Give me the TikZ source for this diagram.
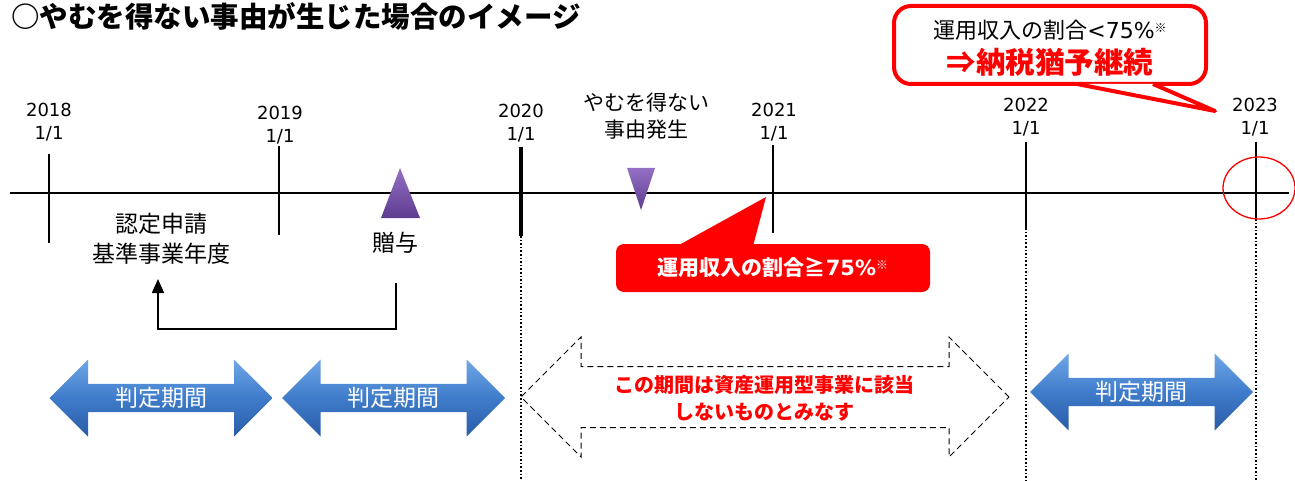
\documentclass[tikz,border=0pt]{standalone}
\usepackage{fontspec}
\setmainfont{Noto Sans CJK JP}
\newfontfamily\latin{DejaVu Sans}
\usepackage{tikz}
\usetikzlibrary{positioning, arrows.meta, shapes.arrows}
\definecolor{alert}{HTML}{FF0000}
\definecolor{blueA}{HTML}{6FA6E6}
\definecolor{blueB}{HTML}{2A5CA6}
\definecolor{blueC}{HTML}{3F7CCB}
\definecolor{violetA}{HTML}{9470C4}
\definecolor{violetB}{HTML}{5E3C90}

\begin{document}
\begin{tikzpicture}[
	x=1pt, y=-1pt,
	yr/.style = {align=center, inner sep=0pt, font=\latin\fontsize{18}{23}\selectfont},
	lbl/.style = {align=center, inner sep=0pt, font=\fontsize{#1}{30}\selectfont},
	yrline/.style = {line width=2pt},
	gap/.style = {line width=1.6pt, dotted},
	judge/.style = {double arrow, double arrow head extend=18.5pt,
		minimum height=223pt, minimum width=77pt, inner sep=0pt,
		top color=blueA, bottom color=blueB, middle color=blueC,
		text=white, font=\fontsize{23}{26}\selectfont},
	tri/.style = {top color=violetA, bottom color=violetB}
	]
	\useasboundingbox (0,0) rectangle (1295,481);

	\node[anchor=west, inner sep=0pt, font=\fontsize{28.5}{30}\selectfont\bfseries] (title) at (11,16)
		{○やむを得ない事由が生じた場合のイメージ};

	% time line
	\coordinate (tl) at (10,193);
	\coordinate (tr) at (1289,193);
	\draw[yrline] (tl) -- (tr);

	\node[yr] (y18) at (49,122) {2018\\1/1};
	\node[yr] (y19) at (280,125) {2019\\1/1};
	\node[yr] (y20) at (521,123) {2020\\1/1};
	\node[yr] (y21) at (774,122) {2021\\1/1};
	\node[yr] (y22) at (1026,117) {2022\\1/1};
	\node[yr] (y23) at (1255,117) {2023\\1/1};

	\draw[yrline] (49,154) -- (49,243);
	\draw[yrline] (279,146) -- (279,235);
	\draw[line width=3.5pt] (521,147) -- (521,236);
	\draw[yrline] (773,145) -- (773,233);
	\draw[yrline] (1026,142) -- (1026,228);
	\draw[yrline] (1256,142) -- (1256,219);
	\draw[gap] (521,236) -- (521,481);
	\draw[gap] (1026,228) -- (1026,481);
	\draw[gap] (1256,219) -- (1256,481);

	\draw[alert, line width=1.3pt] (1259,188) ellipse [x radius=36pt, y radius=31pt];

	% events
	\shade[tri] (400,168) -- (420,218) -- (381,218) -- cycle;
	\shade[tri] (627,168) -- (655,168) -- (641,210) -- cycle;

	\node[lbl=23] (kijun) at (161,239) {認定申請\\基準事業年度};
	\node[lbl=23] (gift) at (395,243) {贈与};
	\node[align=center, inner sep=0pt, font=\fontsize{21}{27}\selectfont] (cause) at (646,116) {やむを得ない\\事由発生};

	\coordinate (giftout) at (396,283);
	\coordinate (giftbend) at (396,329);
	\coordinate (kijunin) at (158,279);
	\draw[-{Triangle[width=12pt,length=14pt]}, line width=1.5pt] (giftout) -- (giftbend) -| (kijunin);

	% callouts
	\fill[alert] (670,250) -- (766,197) -- (752,250) -- cycle;
	\node[fill=alert, rounded corners=8pt, minimum width=314pt, minimum height=48pt,
		text=white, font=\fontsize{21}{24}\selectfont\bfseries] (ratio) at (773,268)
		{運用収入の割合≧{\latin 75\%}\raisebox{6pt}{\fontsize{12}{12}\selectfont ※}};

	\node[fill=white, draw=alert, line width=4pt, rounded corners=17pt,
		minimum width=312pt, minimum height=78pt] (keep) at (1050,45) {};
	\draw[alert, fill=white, line width=4pt, line join=round] (1077,84) -- (1215,111) -- (1153,84);
	\node[inner sep=0pt, font=\fontsize{22}{24}\selectfont] (keepa) at (1050,30)
		{運用収入の割合{\latin <75\%}\raisebox{6pt}{\fontsize{12}{12}\selectfont ※}};
	\node[inner sep=0pt, text=alert, font=\fontsize{29.5}{32}\selectfont\bfseries] (keepb) at (1050,62)
		{⇒納税猶予継続};

	% periods
	\node[judge] (p1) at (161,398) {判定期間};
	\node[judge] (p2) at (393.5,398) {判定期間};
	\node[judge] (p3) at (1141.5,392) {判定期間};
	\node[double arrow, double arrow head extend=29.5pt, minimum height=488pt,
		minimum width=119pt, inner sep=0pt, draw, dash pattern=on 6pt off 4pt, line width=1pt] (deem) at (765,397)
		{\rule{0pt}{60pt}};
	\node[align=center, inner sep=0pt, text=alert, font=\fontsize{20}{27}\selectfont\bfseries] (deemtxt) at (764,398)
		{この期間は資産運用型事業に該当\\しないものとみなす};
\end{tikzpicture}
\end{document}
